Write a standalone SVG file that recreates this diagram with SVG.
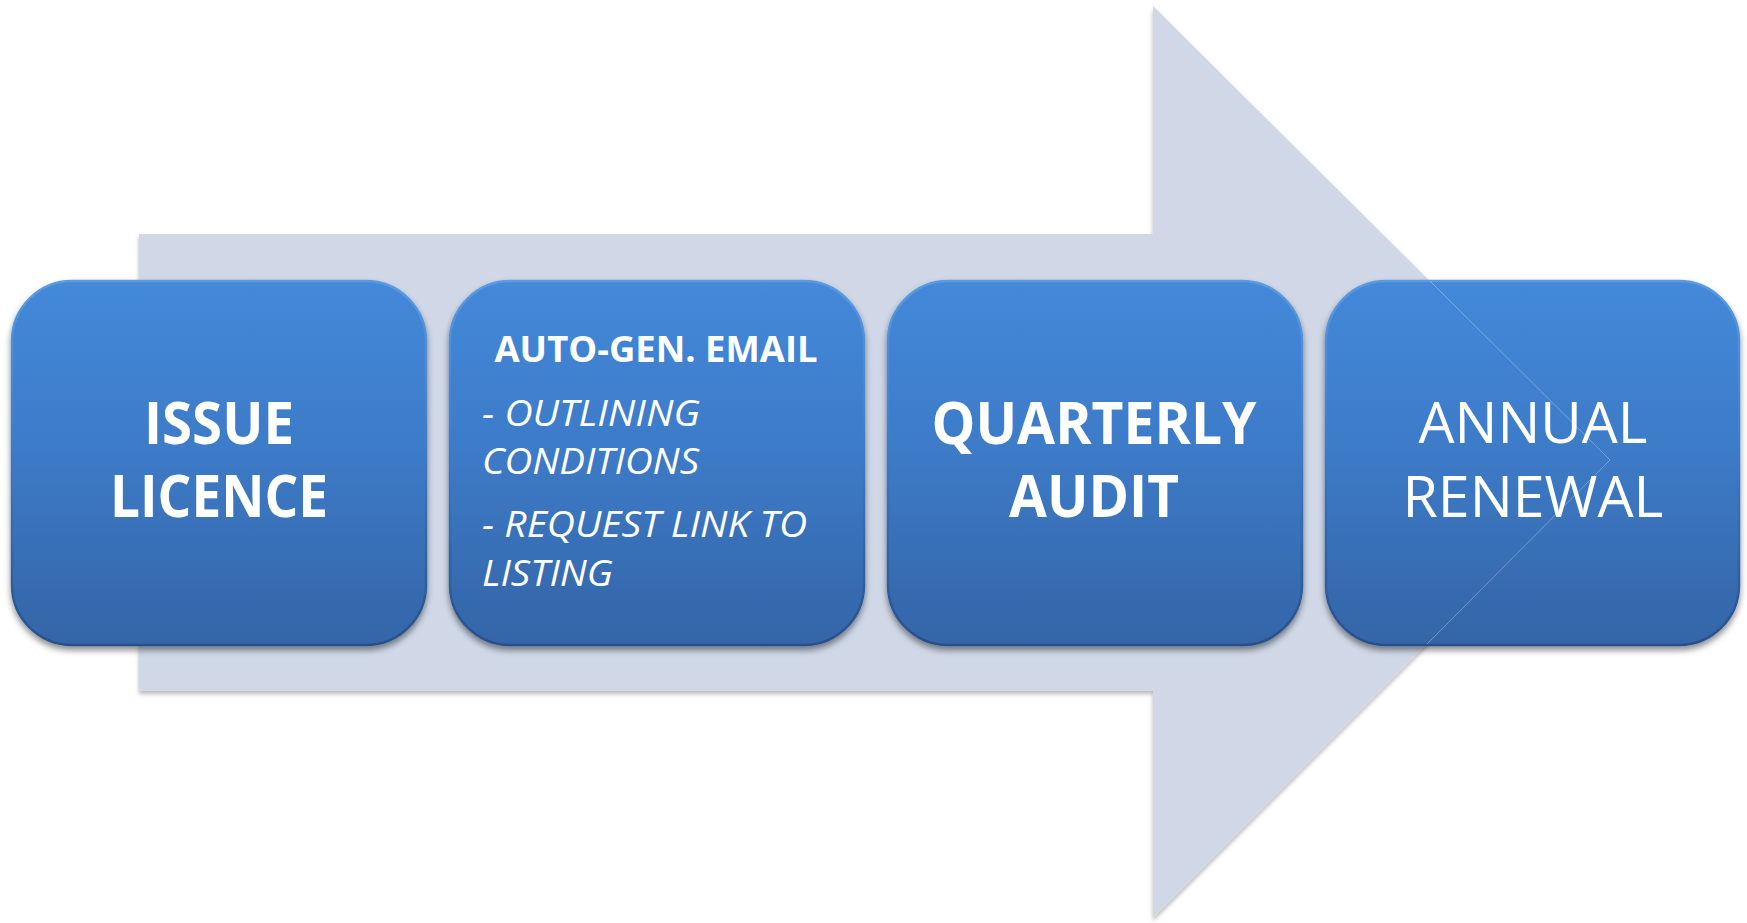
<svg xmlns="http://www.w3.org/2000/svg" width="1747" height="923" viewBox="0 0 1747 923">
  <defs>
    <linearGradient id="boxFill" x1="0" y1="0" x2="0" y2="1">
      <stop offset="0" stop-color="#4489DA"/>
      <stop offset="0.45" stop-color="#3D7BC8"/>
      <stop offset="1" stop-color="#3465A7"/>
    </linearGradient>
    <linearGradient id="boxEdge" x1="0" y1="0" x2="0" y2="1">
      <stop offset="0" stop-color="#5A9BE3"/>
      <stop offset="0.5" stop-color="#3C78C4"/>
      <stop offset="1" stop-color="#27508A"/>
    </linearGradient>
    <filter id="arrowShadow" x="-5%" y="-5%" width="110%" height="115%">
      <feDropShadow dx="0" dy="3" stdDeviation="2" flood-color="#000000" flood-opacity="0.28"/>
    </filter>
    <filter id="boxShadow" x="-5%" y="-5%" width="110%" height="115%">
      <feDropShadow dx="0" dy="4" stdDeviation="3" flood-color="#000000" flood-opacity="0.45"/>
    </filter>
  </defs>
  <style>
    .box { fill: url(#boxFill); stroke: url(#boxEdge); stroke-width: 2.5; filter: url(#boxShadow); }
    .lbl { fill: #FFFFFF; font-family: "Open Sans", "Liberation Sans", sans-serif; text-anchor: middle; }
    .big { font-size: 59px; font-weight: bold; }
    .thin { font-size: 56px; font-weight: normal; }
    .head { font-size: 35px; font-weight: bold; }
    .item { font-size: 36px; font-style: italic; text-anchor: start; }
  </style>

  <!-- background process arrow -->
  <g id="connectors">
    <path d="M139,234 H1153 V6 L1610,460 L1153,918 V691 H139 Z" fill="#D0D8E7" filter="url(#arrowShadow)"/>
  </g>

  <g id="issue-licence">
    <rect class="box" x="12" y="281" width="414" height="364" rx="60" ry="60"/>
    <text class="lbl big" x="219" y="444" textLength="150" lengthAdjust="spacingAndGlyphs">ISSUE</text>
    <text class="lbl big" x="219" y="517" textLength="218" lengthAdjust="spacingAndGlyphs">LICENCE</text>
  </g>

  <g id="auto-gen-email">
    <rect class="box" x="450" y="281" width="414" height="364" rx="60" ry="60"/>
    <text class="lbl head" x="656" y="362" textLength="323" lengthAdjust="spacingAndGlyphs">AUTO-GEN. EMAIL</text>
    <text class="lbl item" x="482" y="426" textLength="218" lengthAdjust="spacingAndGlyphs">- OUTLINING</text>
    <text class="lbl item" x="482" y="474" textLength="217" lengthAdjust="spacingAndGlyphs">CONDITIONS</text>
    <text class="lbl item" x="482" y="537" textLength="325" lengthAdjust="spacingAndGlyphs">- REQUEST LINK TO</text>
    <text class="lbl item" x="482" y="586" textLength="131" lengthAdjust="spacingAndGlyphs">LISTING</text>
  </g>

  <g id="quarterly-audit">
    <rect class="box" x="888" y="281" width="414" height="364" rx="60" ry="60"/>
    <text class="lbl big" x="1094" y="444" textLength="325" lengthAdjust="spacingAndGlyphs">QUARTERLY</text>
    <text class="lbl big" x="1094" y="517" textLength="170" lengthAdjust="spacingAndGlyphs">AUDIT</text>
  </g>

  <g id="annual-renewal">
    <rect class="box" x="1326" y="281" width="413" height="364" rx="60" ry="60"/>
    <!-- faint outline of the arrow head showing through -->
    <polyline points="1430,281 1610,460 1427,644" fill="none" stroke="#FFFFFF" stroke-opacity="0.3" stroke-width="1"/>
    <text class="lbl thin" x="1533" y="443" textLength="229" lengthAdjust="spacingAndGlyphs">ANNUAL</text>
    <text class="lbl thin" x="1533" y="517" textLength="261" lengthAdjust="spacingAndGlyphs">RENEWAL</text>
  </g>
</svg>
